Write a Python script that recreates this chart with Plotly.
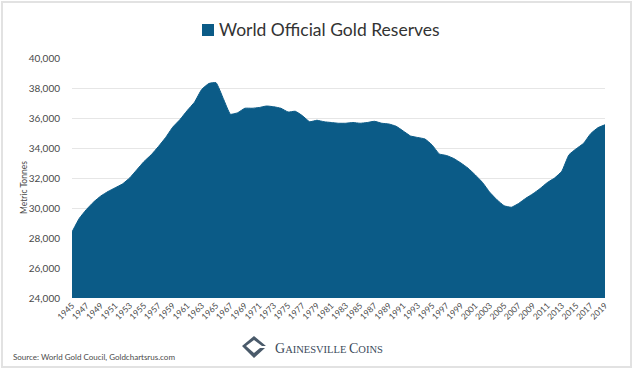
import plotly.graph_objects as go

years = list(range(1945, 2020))
reserves = [
    28400, 29300, 29900, 30400, 30800, 31100, 31350, 31600, 32000, 32550,  # 1945-1954
    33100, 33550, 34100, 34700, 35400, 35900, 36500, 37050, 37900, 38300,  # 1955-1964
    38350, 37300, 36250, 36350, 36650, 36650, 36700, 36800, 36750, 36650,  # 1965-1974
    36400, 36450, 36150, 35750, 35850, 35750, 35700, 35650, 35650, 35700,  # 1975-1984
    35650, 35700, 35780, 35650, 35600, 35450, 35130, 34800, 34700, 34600,  # 1985-1994
    34200, 33600, 33500, 33300, 33000, 32650, 32200, 31700, 31050, 30550,  # 1995-2004
    30150, 30050, 30300, 30650, 30950, 31300, 31700, 32000, 32450, 33550,  # 2005-2014
    33950, 34300, 34950, 35350, 35550,                                     # 2015-2019
]
tick_years = list(range(1945, 2020, 2))
y_ticks = list(range(24000, 40001, 2000))
y_tick_text = [f"{v:,}" for v in y_ticks]
series_name = "World Official Gold Reserves"

BLUE = "#0b5b87"
TXT = "#4a4a4a"

# plot area in pixels: x 72..605, y 58..298
L, R, T, B = 72, 35, 58, 73
W, H = 640, 371
pw, ph = W - L - R, H - T - B


def px(x):
    return (x - L) / pw


def py(y):
    return (H - B - y) / ph


fig = go.Figure()
fig.add_trace(go.Scatter(
    x=years, y=reserves, mode="lines", fill="tozeroy", name=series_name,
    fillcolor=BLUE, line=dict(color=BLUE, width=1, shape="spline", smoothing=0.4),
    showlegend=False, hoverinfo="x+y",
))

shapes = [
    # outer light frame
    dict(type="rect", xref="paper", yref="paper",
         x0=px(2), x1=px(631), y0=py(367), y1=py(2),
         line=dict(color="#e2e2e2", width=2), layer="below"),
    # legend swatch
    dict(type="rect", xref="paper", yref="paper",
         x0=px(202), x1=px(214), y0=py(36), y1=py(24),
         fillcolor=BLUE, line=dict(width=0)),
    # logo mark (simplified)
    dict(type="path", xref="paper", yref="paper",
         path=(f"M {px(254)} {py(336)} L {px(266)} {py(346)} L {px(262)} {py(346)} "
               f"L {px(254)} {py(340)} L {px(246)} {py(346)} L {px(254)} {py(353)} "
               f"L {px(260)} {py(348)} L {px(265)} {py(348)} L {px(254)} {py(358)} "
               f"L {px(242)} {py(346)} Z"),
         fillcolor="#4a5a6a", line=dict(width=0)),
]

annotations = [
    dict(text=series_name, x=px(217), y=py(30), xref="paper", yref="paper",
         xanchor="left", yanchor="middle", showarrow=False,
         font=dict(size=17.5, color="#333333")),
    dict(text="Metric Tonnes", x=px(17), y=py(188), xref="paper", yref="paper",
         textangle=-90, showarrow=False, font=dict(size=8.5, color=TXT)),
    dict(text="Source: World Gold Coucil, Goldchartsrus.com", x=px(11), y=py(357),
         xref="paper", yref="paper", xanchor="left", yanchor="middle",
         showarrow=False, font=dict(size=8, color=TXT)),
    dict(text=('<span style="font-size:14px">G</span>AINESVILLE '
               '<span style="font-size:14px">C</span>OINS'),
         x=px(273), y=py(348), xref="paper", yref="paper", xanchor="left",
         yanchor="middle", showarrow=False,
         font=dict(size=10.5, color="#3b4a5a", family="Liberation Serif")),
]

fig.update_layout(
    width=W, height=H,
    margin=dict(l=L, r=R, t=T, b=B, autoexpand=False),
    paper_bgcolor="white", plot_bgcolor="white",
    font=dict(family="Lato, Open Sans, sans-serif", color=TXT),
    showlegend=False,
    shapes=shapes,
    annotations=annotations,
    xaxis=dict(range=[1945, 2019], tickmode="array", tickvals=tick_years,
               ticktext=[str(y) for y in tick_years], tickangle=-45,
               tickfont=dict(size=8.5, color=TXT), showgrid=False, zeroline=False,
               showline=False, ticks="", automargin=False),
    yaxis=dict(range=[24000, 40000], tickmode="array", tickvals=y_ticks,
               ticktext=y_tick_text, tickfont=dict(size=10, color=TXT),
               showgrid=True, gridcolor="#e6e6e6", gridwidth=1, zeroline=False,
               showline=False, ticks="", ticklabelstandoff=11, automargin=False),
)

fig.write_html("out.html", config={"displayModeBar": False},
               post_script="document.body.style.margin='0';document.body.style.overflow='hidden';")
